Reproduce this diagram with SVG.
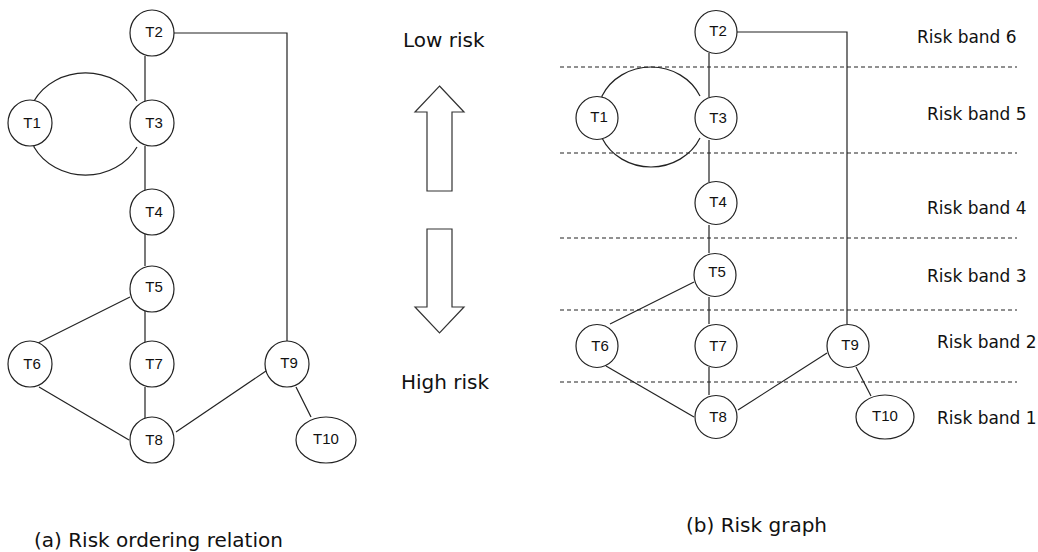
<svg xmlns="http://www.w3.org/2000/svg" width="1038" height="552" viewBox="0 0 1038 552">
<style>
.n{fill:#fff;stroke:#222;stroke-width:1.2}
.c{fill:none;stroke:#222;stroke-width:1.2}
.d{fill:none;stroke:#222;stroke-width:1.2;stroke-dasharray:4 3}
.t{font-family:"Liberation Sans",Arial,sans-serif;font-size:15px;fill:#111;text-anchor:middle}
.b{font-family:"DejaVu Sans",Verdana,sans-serif;font-size:17px;fill:#111}
.h{font-family:"DejaVu Sans",Verdana,sans-serif;font-size:20px;fill:#111}
.ar{fill:#fff;stroke:#333;stroke-width:1.2}
</style>
<rect width="1038" height="552" fill="#fff"/>
<g id="bands">
<line class="d" x1="560" y1="67" x2="1017" y2="67"/>
<line class="d" x1="560" y1="153" x2="1017" y2="153"/>
<line class="d" x1="560" y1="238" x2="1017" y2="238"/>
<line class="d" x1="560" y1="310" x2="1017" y2="310"/>
<line class="d" x1="560" y1="382" x2="1017" y2="382"/>
</g>
<g id="connectors">
<path class="c" d="M145,56 V101 M145,146 V190 M145,234 V266 M145,311 V342 M145,387 V418"/>
<path class="c" d="M174,33 H287 V341"/>
<path class="c" d="M34,108 V101 A58 52 0 0 1 137,101"/>
<path class="c" d="M34,140 V147 A58 52 0 0 0 137,147"/>
<path class="c" d="M130,297 L38,343"/>
<path class="c" d="M39,387 L129,440"/>
<path class="c" d="M176,432 L266,371"/>
<path class="c" d="M296,387 L311,417"/>
<path class="c" d="M709,53 V97 M709,140 V182 M709,225 V253 M709,297 V324 M709,367 V395"/>
<path class="c" d="M737,32 H847 V324"/>
<path class="c" d="M602,103 V96 A54 50 0 0 1 700,96"/>
<path class="c" d="M602,132 V138 A54 50 0 0 0 700,138"/>
<path class="c" d="M694,282 L610,324"/>
<path class="c" d="M606,366 L694,417"/>
<path class="c" d="M738,410 L827,353"/>
<path class="c" d="M856,367 L871,396"/>
</g>
<g id="a-T1"><ellipse class="n" cx="30" cy="123" rx="22" ry="23"/><text class="t" x="32" y="128">T1</text></g>
<g id="a-T2"><ellipse class="n" cx="152" cy="33" rx="22" ry="23"/><text class="t" x="154" y="37">T2</text></g>
<g id="a-T3"><ellipse class="n" cx="152" cy="123" rx="22" ry="23"/><text class="t" x="154" y="128">T3</text></g>
<g id="a-T4"><ellipse class="n" cx="152" cy="212" rx="22" ry="23"/><text class="t" x="154" y="217">T4</text></g>
<g id="a-T5"><ellipse class="n" cx="152" cy="289" rx="22" ry="23"/><text class="t" x="154" y="292">T5</text></g>
<g id="a-T6"><ellipse class="n" cx="30" cy="364" rx="22" ry="23"/><text class="t" x="32" y="369">T6</text></g>
<g id="a-T7"><ellipse class="n" cx="152" cy="364" rx="22" ry="23"/><text class="t" x="154" y="369">T7</text></g>
<g id="a-T8"><ellipse class="n" cx="152" cy="440" rx="22" ry="23"/><text class="t" x="154" y="445">T8</text></g>
<g id="a-T9"><ellipse class="n" cx="287" cy="364" rx="22" ry="23"/><text class="t" x="289" y="368">T9</text></g>
<g id="a-T10"><ellipse class="n" cx="326" cy="440" rx="30" ry="23"/><text class="t" x="326" y="444">T10</text></g>
<g id="b-T1"><ellipse class="n" cx="597" cy="118" rx="21" ry="21.5"/><text class="t" x="599" y="122">T1</text></g>
<g id="b-T2"><ellipse class="n" cx="716" cy="32" rx="21" ry="21.5"/><text class="t" x="718" y="36">T2</text></g>
<g id="b-T3"><ellipse class="n" cx="716" cy="118" rx="21" ry="21.5"/><text class="t" x="718" y="123">T3</text></g>
<g id="b-T4"><ellipse class="n" cx="716" cy="203" rx="21" ry="21.5"/><text class="t" x="718" y="207">T4</text></g>
<g id="b-T5"><ellipse class="n" cx="715" cy="275" rx="21" ry="21.5"/><text class="t" x="717" y="277">T5</text></g>
<g id="b-T6"><ellipse class="n" cx="597" cy="346" rx="21" ry="21.5"/><text class="t" x="600" y="351">T6</text></g>
<g id="b-T7"><ellipse class="n" cx="716" cy="346" rx="21" ry="21.5"/><text class="t" x="718" y="351">T7</text></g>
<g id="b-T8"><ellipse class="n" cx="716" cy="417" rx="21" ry="21.5"/><text class="t" x="718" y="422">T8</text></g>
<g id="b-T9"><ellipse class="n" cx="848" cy="346" rx="21" ry="21.5"/><text class="t" x="850" y="350">T9</text></g>
<g id="b-T10"><ellipse class="n" cx="885" cy="417" rx="29" ry="22"/><text class="t" x="885" y="421">T10</text></g>
<g id="arrows">
<path class="ar" d="M439.5,86 L464,112 L452,112 L452,191 L427,191 L427,112 L415,112 Z"/>
<path class="ar" d="M427,229 L452,229 L452,307 L464,307 L439.5,333 L415,307 L427,307 Z"/>
</g>
<g id="labels">
<text class="h" x="403" y="47">Low risk</text>
<text class="h" x="401" y="389">High risk</text>
<text class="b" x="917" y="43">Risk band 6</text>
<text class="b" x="927" y="120">Risk band 5</text>
<text class="b" x="927" y="214">Risk band 4</text>
<text class="b" x="927" y="282">Risk band 3</text>
<text class="b" x="937" y="348">Risk band 2</text>
<text class="b" x="937" y="424">Risk band 1</text>
<text class="h" x="34" y="547">(a) Risk ordering relation</text>
<text class="h" x="686" y="532">(b) Risk graph</text>
</g>
</svg>
